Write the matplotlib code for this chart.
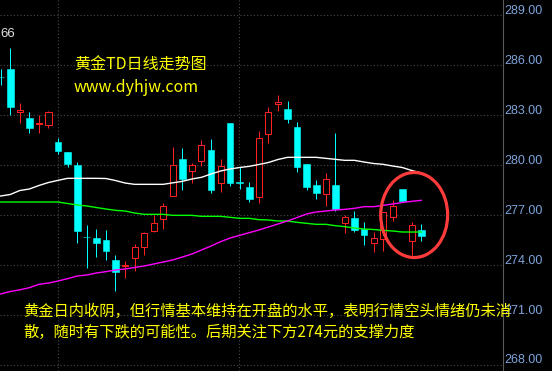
import matplotlib
matplotlib.use('Agg')
import matplotlib.pyplot as plt
from matplotlib.patches import Ellipse
import numpy as np

# ---------------- data ----------------
opens = [284.92, 285.40, 282.82, 282.46, 282.10, 282.04, 281.02, 280.42, 279.64, 275.32,
         275.26, 275.14, 273.94, 273.60, 274.08, 274.74, 275.70, 276.38, 277.80, 280.00,
         279.30, 279.90, 280.54, 278.54, 282.16, 278.62, 278.32, 277.70, 281.48, 283.28,
         283.00, 281.92, 279.70, 278.42, 277.88, 278.42, 276.18, 276.44, 275.82, 274.98,
         275.18, 276.54, 278.20, 275.06, 275.74]
highs = [285.40, 286.66, 283.36, 282.82, 282.64, 282.86, 281.26, 280.45, 279.82, 276.04,
         275.80, 275.74, 274.24, 273.88, 274.90, 275.64, 276.64, 277.34, 280.74, 280.64,
         279.78, 281.14, 281.18, 279.98, 282.18, 279.54, 278.60, 281.68, 283.10, 283.84,
         283.48, 282.22, 279.72, 278.74, 279.14, 281.56, 276.64, 276.88, 276.24, 275.64,
         276.82, 277.54, 278.22, 276.24, 276.10]
lows = [284.44, 282.64, 282.16, 281.56, 281.56, 281.86, 280.30, 279.54, 274.98, 273.48,
        274.14, 273.94, 272.10, 272.88, 273.30, 274.24, 275.64, 275.80, 277.78, 278.14,
        278.54, 279.58, 277.98, 278.02, 278.38, 278.20, 277.44, 277.38, 280.94, 282.90,
        282.18, 279.24, 278.16, 277.60, 277.18, 276.88, 275.54, 275.64, 274.84, 274.44,
        274.50, 276.30, 277.48, 274.24, 275.10]
closes = [284.90, 283.12, 282.94, 281.86, 282.16, 282.82, 280.50, 279.72, 275.70, 275.30,
          274.98, 274.50, 273.20, 273.62, 274.70, 275.54, 276.14, 277.18, 279.62, 278.82,
          279.62, 280.82, 278.14, 279.56, 278.58, 278.56, 277.62, 281.24, 282.84, 283.40,
          282.42, 279.54, 278.34, 277.98, 278.78, 277.02, 276.52, 275.74, 275.44, 275.24,
          276.80, 277.18, 277.50, 276.02, 275.40]

ma_white = [277.78, 277.87, 278.11, 278.20, 278.41, 278.59, 278.72, 278.84, 278.84, 278.84,
            278.84, 278.83, 278.71, 278.56, 278.48, 278.48, 278.48, 278.48, 278.57, 278.66,
            278.80, 278.90, 279.10, 279.28, 279.40, 279.49, 279.56, 279.67, 279.79, 279.97,
            280.10, 280.10, 280.10, 280.10, 280.04, 279.98, 279.92, 279.92, 279.82, 279.73,
            279.68, 279.58, 279.49, 279.31, 279.16]
ma_green = [277.42, 277.42, 277.42, 277.42, 277.42, 277.42, 277.42, 277.33, 277.24, 277.18,
            277.09, 277.00, 276.92, 276.88, 276.76, 276.68, 276.68, 276.68, 276.62, 276.62,
            276.62, 276.56, 276.56, 276.56, 276.50, 276.44, 276.44, 276.36, 276.34, 276.28,
            276.28, 276.20, 276.14, 276.08, 276.08, 276.00, 275.94, 275.86, 275.80, 275.77,
            275.72, 275.68, 275.62, 275.62, 275.62]
ma_magenta = [271.90, 272.05, 272.15, 272.28, 272.48, 272.56, 272.68, 272.82, 272.98, 273.04,
              273.16, 273.24, 273.34, 273.40, 273.49, 273.58, 273.70, 273.82, 273.94, 274.12,
              274.30, 274.54, 274.78, 275.04, 275.26, 275.42, 275.58, 275.74, 275.92, 276.10,
              276.28, 276.49, 276.70, 276.82, 276.88, 276.94, 276.98, 277.04, 277.14, 277.14,
              277.22, 277.30, 277.39, 277.46, 277.52]

y_ticks = [268, 271, 274, 277, 280, 283, 286, 289]
high_label = "66"
title = "黄金TD日线走势图"
site = "www.dyhjw.com"
comment1 = "黄金日内收阴，但行情基本维持在开盘的水平，表明行情空头情绪仍未消"
comment2 = "散，随时有下跌的可能性。后期关注下方274元的支撑力度"

# ---------------- figure ----------------
W, H = 552, 371
fig = plt.figure(figsize=(W / 100, H / 100), dpi=100, facecolor='black')
ax = fig.add_axes([0, 0, 503 / W, 1], facecolor='black')

n = len(opens)
x = np.arange(n)
o = np.array(opens); h = np.array(highs); l = np.array(lows); c = np.array(closes)
up = c >= o
dn = ~up
px = 1 * 72 / 100  # one pixel in points

RED = '#ff2020'
CYAN = '#00ffff'

# grid (drawn just below the labels, as in the reference)
for t in y_ticks:
    ax.axhline(t - 0.36, color='#4a4a4a', lw=0.8, ls=(0, (1, 2)), zorder=0.5)
for gx in (6, 25):
    ax.axvline(gx - 0.05, color='#4a4a4a', lw=0.8, ls=(0, (1, 2)), zorder=0.5)

# wicks
ax.vlines(x[dn], l[dn], h[dn], color=CYAN, lw=px, zorder=2)
top = np.maximum(o, c); bot = np.minimum(o, c)
ax.vlines(x[up], top[up], h[up], color=RED, lw=px, zorder=2)
ax.vlines(x[up], l[up], bot[up], color=RED, lw=px, zorder=2)

# bodies
ax.bar(x[dn], np.maximum(o[dn] - c[dn], 0.03), bottom=c[dn], width=0.70,
       color=CYAN, edgecolor=CYAN, linewidth=0.4, zorder=3)
ax.bar(x[up], np.maximum(c[up] - o[up], 0.01), bottom=o[up], width=0.63,
       facecolor='black', edgecolor=RED, linewidth=px, zorder=3)

# moving averages
ax.plot(x, ma_white, color='white', lw=1.0, zorder=4)
ax.plot(x, ma_green, color='#00ff00', lw=1.0, zorder=4)
ax.plot(x, ma_magenta, color='#ff00ff', lw=1.0, zorder=4)

# highlight ellipse around the latest candles
ax.add_patch(Ellipse((43.25, 276.64), 7.0, 5.1, fill=False,
                     edgecolor='#ff3b3b', lw=2.3, zorder=10))

ax.set_xlim(-0.073, 52.54)
ax.set_ylim(267.28, 289.54)
ax.set_xticks([])
ax.yaxis.tick_right()
ax.set_yticks(y_ticks)
ax.set_yticklabels([f"{t:.2f}" for t in y_ticks])
ax.tick_params(axis='y', length=0, pad=0.8, labelcolor='#7ea4dc', labelsize=9)
for lab in ax.get_yticklabels():
    lab.set_fontfamily('Liberation Sans')
for s in ('top', 'left', 'bottom'):
    ax.spines[s].set_visible(False)
ax.spines['right'].set_color('#5a5a5a')
ax.spines['right'].set_linewidth(0.8)

cjk = ['Noto Sans CJK SC', 'DejaVu Sans']

def fx(px_):
    return px_ / W

def fy(py_):
    return 1 - py_ / H

fig.text(fx(0), fy(34), high_label, color='#e0e0e0', fontsize=9.5,
         family='Liberation Sans', ha='left', va='center')
fig.text(fx(74), fy(65.5), title, color='#ffff00', fontsize=11.5,
         family=cjk, ha='left', va='center')
fig.text(fx(74), fy(91.5), site, color='#ffff00', fontsize=11.5,
         family=cjk, ha='left', va='baseline')
fig.text(fx(23), fy(311.7), comment1, color='#ffff00', fontsize=11,
         family=cjk, ha='left', va='center')
fig.text(fx(23), fy(332.7), comment2, color='#ffff00', fontsize=11,
         family=cjk, ha='left', va='center')

fig.savefig('out.png', dpi=100, facecolor='black')
